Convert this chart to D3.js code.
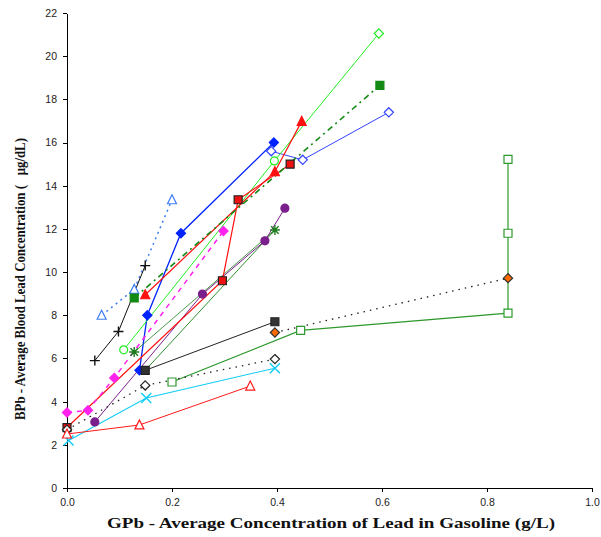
<!DOCTYPE html>
<html>
<head>
<meta charset="utf-8" />
<title>Blood lead vs gasoline lead</title>
<script src="https://cdn.jsdelivr.net/npm/d3@7"></script>
<style>
    body { margin: 0; background: #fff; }
    .axis path, .axis line { stroke: #000; stroke-width: 1px; shape-rendering: crispEdges; }
    .axis text { font-family: "Liberation Sans", Arial, sans-serif; font-size: 10.5px; fill: #222; }
    .title { font-family: "Liberation Serif", "Times New Roman", serif; font-weight: bold; fill: #111; white-space: pre; }
</style>
</head>
<body>
<svg id="chart" width="601" height="537"></svg>
<script>
    // data: [gasoline lead g/L, blood lead ug/dL]
    var lightBlueTri    = [[0.066, 8.0], [0.128, 9.2], [0.200, 13.35]];
    var blackPlus       = [[0.053, 5.9], [0.098, 7.25], [0.149, 10.3]];
    var blueDiamond     = [[0.138, 5.45], [0.153, 8.0], [0.217, 11.8], [0.394, 16.0]];
    var blueOpenDiamond = [[0.389, 15.6], [0.449, 15.2], [0.613, 17.4]];
    var limeCircle      = [[0.108, 6.4], [0.395, 15.15], [0.594, 21.05]];
    var redTriangle     = [[0.149, 8.95], [0.396, 14.65], [0.447, 16.98]];
    var redSquare       = [[0.0, 2.8], [0.296, 9.6], [0.326, 13.35], [0.425, 15.0]];
    var greenSquare     = [[0.128, 8.8], [0.596, 18.65]];
    var greenStar       = [[0.128, 6.3], [0.396, 11.95]];
    var oliveLine       = [[0.149, 5.45], [0.396, 11.95]];
    var purpleCircle    = [[0.053, 3.06], [0.258, 8.98], [0.377, 11.45], [0.415, 12.96]];
    var magentaDiamond  = [[0.0, 3.5], [0.04, 3.6], [0.09, 5.1], [0.298, 11.9]];
    var blackSquare     = [[0.149, 5.45], [0.396, 7.7]];
    var orangeDiamond   = [[0.396, 7.2], [0.84, 9.72]];
    var greenOpenSquare = [[0.2, 4.91], [0.445, 7.3], [0.84, 8.1], [0.84, 11.8], [0.84, 15.22]];
    var blackOpenDiamond= [[0.0, 2.7], [0.149, 4.75], [0.396, 5.97]];
    var cyanX           = [[0.003, 2.2], [0.151, 4.17], [0.396, 5.55]];
    var redOpenTriangle = [[0.0, 2.5], [0.138, 2.92], [0.349, 4.72]];

    var xTicks = [0, 0.2, 0.4, 0.6, 0.8, 1.0];
    var yTicks = [0, 2, 4, 6, 8, 10, 12, 14, 16, 18, 20, 22];

    // styles for each series (drawn in this order)
    var series = [
        { data: lightBlueTri, color: "#3f7df5", dash: "2,4", width: 1.5, marker: "triangle", fill: "#fff" },
        { data: blackPlus, color: "#111", dash: null, width: 1, marker: "plus" },
        { data: blueDiamond, color: "#0022ff", dash: null, width: 1.3, marker: "diamond", fill: "#0022ff" },
        { data: blueOpenDiamond, color: "#3344ff", dash: null, width: 1, marker: "diamond", fill: "#fff" },
        { data: limeCircle, color: "#22ee22", dash: null, width: 1, marker: "circle", fill: "#fff", last: "diamond" },
        { data: oliveLine, color: "#2f8f2f", dash: null, width: 1, marker: null },
        { data: greenStar, color: "#1d7d1d", dash: null, width: 0.8, marker: "star" },
        { data: purpleCircle, color: "#7b1f8c", dash: null, width: 1, marker: "circle", fill: "#7b1f8c" },
        { data: redSquare, color: "#ff1010", dash: null, width: 1.2, marker: "square", fill: "#ee1111", stroke: "#222" },
        { data: redTriangle, color: "#ff1010", dash: null, width: 1.2, marker: "triangle", fill: "#ff1010" },
        { data: greenSquare, color: "#138a13", dash: "6,4,2,4", width: 1.6, marker: "square", fill: "#138a13" },
        { data: magentaDiamond, color: "#ff22ee", dash: "5,5", width: 1.5, marker: "diamond", fill: "#ff22ee" },
        { data: blackSquare, color: "#222", dash: null, width: 1, marker: "square", fill: "#333" },
        { data: orangeDiamond, color: "#222", dash: "1.5,5", width: 1.3, marker: "diamond", fill: "#ff6a00", stroke: "#333" },
        { data: greenOpenSquare, color: "#2e9a2e", dash: null, width: 1.2, marker: "square", fill: "#fff" },
        { data: blackOpenDiamond, color: "#222", dash: "1.5,5", width: 1.3, marker: "diamond", fill: "#fff" },
        { data: cyanX, color: "#11ccf5", dash: null, width: 1.1, marker: "x" },
        { data: redOpenTriangle, color: "#ff1a1a", dash: null, width: 1, marker: "triangle", fill: "#fff" }
    ];

    var margin = { top: 13, right: 9, bottom: 49, left: 67 };
    var svg = d3.select("#chart");
    var width = 601 - margin.left - margin.right,
        height = 537 - margin.top - margin.bottom;

    var x = d3.scaleLinear().domain([0, 1]).range([0, width]);
    var y = d3.scaleLinear().domain([0, 22]).range([height, 0]);

    var g = svg.append("g")
        .attr("transform", "translate(" + margin.left + "," + margin.top + ")");

    g.append("g")
        .attr("class", "axis")
        .attr("transform", "translate(0," + height + ")")
        .call(d3.axisBottom(x).tickValues(xTicks).tickSize(4).tickSizeOuter(0).tickPadding(7).tickFormat(d3.format(".1f")));

    g.append("g")
        .attr("class", "axis")
        .call(d3.axisLeft(y).tickValues(yTicks).tickSize(4).tickSizeOuter(0).tickPadding(6));

    var line = d3.line()
        .x(function(d) { return x(d[0]); })
        .y(function(d) { return y(d[1]); });

    g.selectAll(".series-line")
        .data(series)
        .enter().append("path")
        .attr("class", "series-line")
        .attr("d", function(s) { return line(s.data); })
        .attr("fill", "none")
        .attr("stroke", function(s) { return s.color; })
        .attr("stroke-width", function(s) { return s.width; })
        .attr("stroke-dasharray", function(s) { return s.dash; });

    function markerPath(type, r) {
        if (type === "diamond") return "M0," + (-r) + "L" + r + ",0L0," + r + "L" + (-r) + ",0Z";
        if (type === "square") return "M" + (-r) + "," + (-r) + "H" + r + "V" + r + "H" + (-r) + "Z";
        if (type === "triangle") return "M0," + (-r - 1) + "L" + (r + 0.5) + "," + r + "L" + (-r - 0.5) + "," + r + "Z";
        if (type === "circle") return d3.symbol(d3.symbolCircle, Math.PI * r * r)();
        if (type === "plus") return "M" + (-r) + ",0H" + r + "M0," + (-r) + "V" + r;
        if (type === "x") return "M" + (-r) + "," + (-r) + "L" + r + "," + r + "M" + (-r) + "," + r + "L" + r + "," + (-r);
        if (type === "star") {
            var k = r * 0.75;
            return "M" + (-r) + ",0H" + r + "M0," + (-r) + "V" + r +
                "M" + (-k) + "," + (-k) + "L" + k + "," + k + "M" + (-k) + "," + k + "L" + k + "," + (-k);
        }
        return "";
    }

    series.forEach(function(s) {
        if (!s.marker) return;
        var open = ["plus", "x", "star"].indexOf(s.marker) >= 0;
        g.append("g").selectAll("path")
            .data(s.data)
            .enter().append("path")
            .attr("transform", function(d) { return "translate(" + x(d[0]) + "," + y(d[1]) + ")"; })
            .attr("d", function(d, i) {
                var type = (s.last && i === s.data.length - 1) ? s.last : s.marker;
                var r = type === "diamond" ? 4.6 : (type === "circle" ? 4 : (open ? 5 : 4));
                return markerPath(type, r);
            })
            .attr("fill", open ? "none" : s.fill)
            .attr("stroke", s.stroke || s.color)
            .attr("stroke-width", open ? 1.4 : 1.2);
    });

    // axis titles
    svg.append("text")
        .attr("class", "title")
        .attr("x", 331)
        .attr("y", 528)
        .attr("text-anchor", "middle")
        .attr("font-size", "14px")
        .attr("textLength", 448)
        .attr("lengthAdjust", "spacingAndGlyphs")
        .text("GPb - Average Concentration of Lead in Gasoline (g/L)");

    svg.append("text")
        .attr("class", "title")
        .attr("transform", "translate(25,279) rotate(-90)")
        .attr("text-anchor", "middle")
        .attr("font-size", "14px")
        .attr("textLength", 282)
        .attr("lengthAdjust", "spacingAndGlyphs")
        .text("BPb - Average Blood Lead Concentration (   \u03bcg/dL)");
</script>
</body>
</html>
